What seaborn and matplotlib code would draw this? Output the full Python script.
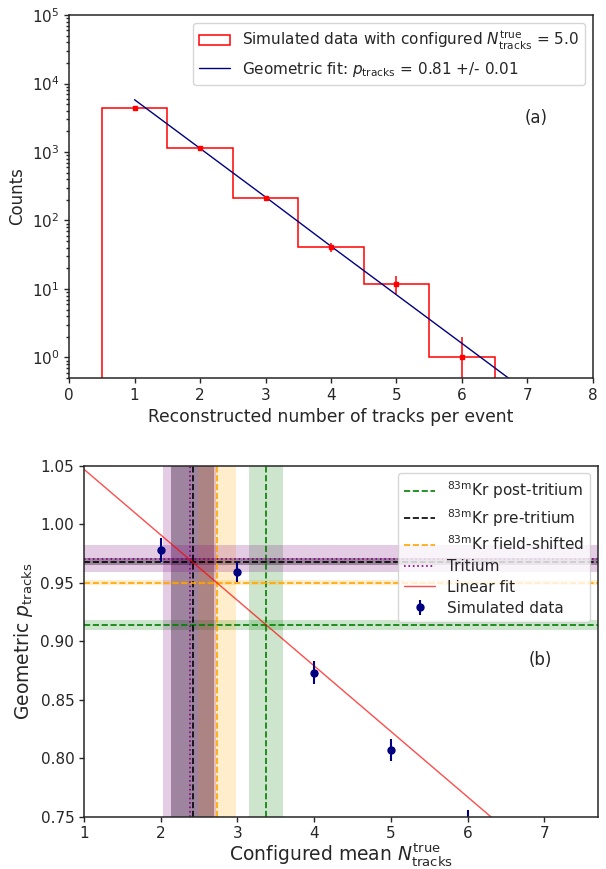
import numpy as np
import pandas as pd
import matplotlib
matplotlib.use("Agg")
import matplotlib.pyplot as plt
import seaborn as sns

# (a) histogram of reconstructed tracks per event
n_tracks = [1, 2, 3, 4, 5, 6]
counts = [4370, 1130, 216, 41, 12, 1]
count_err = [66, 34, 15, 6.4, 3.5, 1]
bin_edges = [0.5, 1.5, 2.5, 3.5, 4.5, 5.5, 6.5]

# geometric fit
fit_x = [1, 2, 3, 4, 5, 6, 7]
fit_counts = [5800, 1130, 220, 42, 8.2, 1.6, 0.31]

# (b) fitted p vs configured mean
n_true = [2, 3, 4, 5, 6]
p_tracks = [0.978, 0.959, 0.873, 0.807, 0.745]
p_err = [0.0105, 0.0085, 0.010, 0.0094, 0.011]

lin_x = [1, 7.7]
lin_p = [1.0469, 0.6717]

# reference measurements: (label, p, p_err, N, N_err, color, style, band alpha)
kr_post = (r"$^{83\mathrm{m}}$Kr post-tritium", 0.9138, 0.0043, 3.377, 0.22, "green", "--", 0.2)
kr_pre = (r"$^{83\mathrm{m}}$Kr pre-tritium", 0.9679, 0.003, 2.416, 0.278, "black", "--", 0.35)
kr_shift = (r"$^{83\mathrm{m}}$Kr field-shifted", 0.950, 0.002, 2.736, 0.25, "orange", "--", 0.2)
tritium = ("Tritium", 0.9705, 0.0114, 2.377, 0.35, "purple", ":", 0.2)

sns.set_theme(style="ticks", context="notebook")
plt.rcParams['font.family'] = ['DejaVu Sans']
plt.rcParams.update({
    'xtick.major.size': 3.5, 'ytick.major.size': 3.5,
    'xtick.minor.size': 2, 'ytick.minor.size': 2,
    'xtick.major.width': 1, 'ytick.major.width': 1,
    'axes.linewidth': 1.1,
})

fig, (ax1, ax2) = plt.subplots(2, 1, figsize=(6.06, 8.69), dpi=100)
ax1.set_position([0.1139, 0.565, 0.8646, 0.4177])
ax2.set_position([0.1386, 0.0602, 0.8482, 0.4039])

# --- panel (a)
ax1.hist(n_tracks, bins=bin_edges, weights=counts, histtype='step', color='red', lw=1.1,
         log=True, label=r"Simulated data with configured $N_{\rm tracks}^{\rm true}$ = 5.0")
ax1.errorbar(n_tracks, counts, yerr=count_err, fmt='s', ms=2.5, color='red', elinewidth=1.1)
sns.lineplot(x=fit_x, y=fit_counts, color='navy', lw=1, ax=ax1,
             label=r"Geometric fit: $p_{\rm tracks}$ = 0.81 +/- 0.01")
ax1.set_yscale('log')
ax1.set_xlim(0, 8)
ax1.set_ylim(0.5, 1e5)
ax1.set_xlabel("Reconstructed number of tracks per event", fontsize=12.3)
ax1.set_ylabel("Counts", fontsize=12)
ax1.legend(loc='upper right', fontsize=11)
ax1.text(0.891, 0.716, "(a)", transform=ax1.transAxes, ha='center', va='center', fontsize=12)

# --- panel (b)
refs = [kr_post, kr_pre, kr_shift, tritium]
for lab, p, pe, n, ne, c, ls, a in refs:
    ax2.axhspan(p - pe, p + pe, color=c, alpha=a, lw=0)
    ax2.axvspan(n - ne, n + ne, color=c, alpha=a, lw=0)
for lab, p, pe, n, ne, c, ls, a in refs:
    ax2.axhline(p, color=c, ls=ls, lw=1.2, label=lab)
    ax2.axvline(n, color=c, ls=ls, lw=1.2)

sns.lineplot(x=lin_x, y=lin_p, color='red', alpha=0.7, lw=1, ax=ax2, label="Linear fit")
ax2.errorbar(n_true, p_tracks, yerr=p_err, fmt='o', ms=5, color='navy', elinewidth=1.5,
             label="Simulated data")
ax2.set_xlim(1, 7.7)
ax2.set_ylim(0.75, 1.05)
ax2.set_yticks([0.75, 0.80, 0.85, 0.90, 0.95, 1.00, 1.05])
ax2.set_xticks([1, 2, 3, 4, 5, 6, 7])
ax2.set_xlabel(r"Configured mean $N_{\rm tracks}^{\rm true}$", fontsize=13.5, labelpad=0)
ax2.set_ylabel(r"Geometric $p_{\rm tracks}$", fontsize=13.5)
ax2.legend(loc='upper right', fontsize=11, labelspacing=0.38)
ax2.text(0.887, 0.446, "(b)", transform=ax2.transAxes, ha='center', va='center', fontsize=12)

fig.savefig("out.png", dpi=100)
